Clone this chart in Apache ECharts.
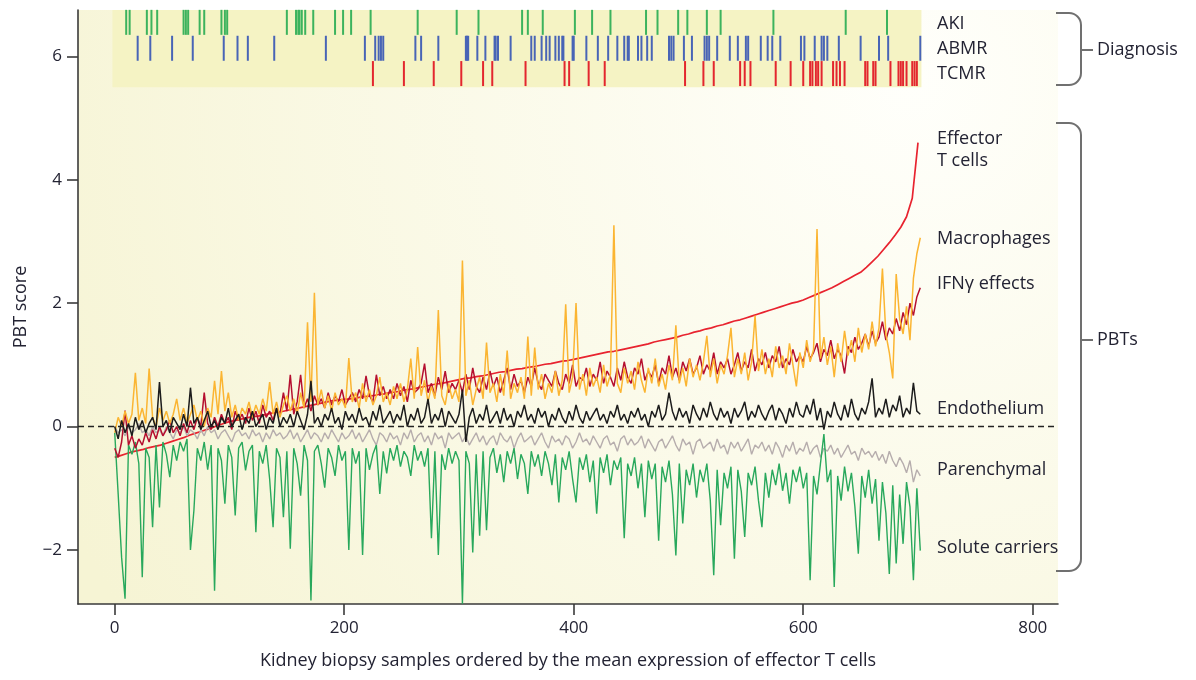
<!DOCTYPE html>
<html lang="en">
<head>
<meta charset="UTF-8">
<title>PBT scores</title>
<script src="https://cdn.jsdelivr.net/npm/echarts@6/dist/echarts.min.js"></script>
<style>
  html, body { margin: 0; background: #fff; }
  #main { width: 1196px; height: 680px; }
</style>
</head>
<body>
<div id="main"></div>
<script>
// effector T cells read every 5th biopsy, the noisy PBTs every 3rd (sample rank 0..702)
const EFFECTOR_STEP = 5;
const PBT_STEP = 3;

const effectorT = [
  -0.50,-0.47,-0.44,-0.41,-0.39,-0.37,-0.34,-0.32,-0.30,-0.27,
  -0.24,-0.21,-0.18,-0.14,-0.11,-0.08,-0.05,-0.02,0.02,0.05,
  0.08,0.10,0.12,0.14,0.16,0.17,0.19,0.21,0.23,0.24,
  0.26,0.28,0.30,0.32,0.34,0.36,0.38,0.40,0.42,0.43,
  0.44,0.45,0.46,0.48,0.49,0.50,0.52,0.53,0.55,0.56,
  0.58,0.60,0.61,0.63,0.65,0.67,0.69,0.70,0.72,0.74,
  0.76,0.78,0.79,0.81,0.82,0.84,0.86,0.88,0.89,0.91,
  0.93,0.94,0.96,0.97,0.99,1.01,1.02,1.04,1.06,1.07,
  1.09,1.11,1.13,1.15,1.17,1.19,1.21,1.22,1.24,1.26,
  1.28,1.30,1.32,1.34,1.37,1.39,1.41,1.43,1.45,1.48,
  1.50,1.53,1.55,1.58,1.60,1.63,1.65,1.68,1.71,1.73,
  1.76,1.79,1.82,1.85,1.88,1.91,1.94,1.97,2.00,2.02,
  2.05,2.09,2.13,2.17,2.21,2.25,2.30,2.35,2.40,2.45,
  2.50,2.58,2.67,2.76,2.87,2.98,3.10,3.23,3.40,3.70,
  4.60
];

const ifnEffects = [
  -0.35,-0.50,-0.25,0.26,-0.30,-0.15,-0.35,-0.20,-0.30,-0.10,
  -0.25,-0.05,-0.20,0.00,-0.15,-0.05,0.10,-0.10,0.00,-0.15,
  0.05,-0.10,0.10,-0.05,0.15,0.00,0.55,0.05,-0.05,0.15,
  0.00,0.20,0.05,0.15,-0.05,0.25,0.10,0.20,0.05,0.30,
  0.10,0.25,0.05,0.35,0.15,0.25,0.10,0.30,0.20,0.55,
  0.25,0.84,0.20,0.40,0.84,0.30,0.45,0.25,0.50,0.35,
  0.45,0.30,0.55,0.35,0.50,0.40,0.60,0.35,0.45,0.55,
  0.40,0.60,0.45,0.82,0.50,0.40,0.84,0.50,0.65,0.45,
  0.60,0.45,0.70,0.50,0.65,0.40,0.75,0.55,0.60,0.70,
  1.02,0.55,0.70,0.50,0.80,0.60,0.90,0.55,0.70,0.60,
  0.75,0.55,0.85,0.60,0.95,0.65,0.55,0.80,0.60,0.90,
  0.65,0.80,0.55,0.75,0.95,0.60,0.85,0.65,0.75,0.55,
  0.80,0.65,0.95,0.70,0.60,0.85,0.75,0.65,0.90,0.70,
  0.60,0.85,0.70,1.00,0.65,0.80,0.75,0.95,0.65,0.85,
  0.75,1.05,0.70,0.90,0.80,0.65,0.95,0.75,1.05,0.80,
  0.70,0.95,0.85,1.10,0.75,0.90,0.80,1.00,0.70,0.95,
  0.85,1.15,0.80,0.95,0.75,1.05,0.90,1.10,0.85,0.95,
  1.15,0.85,1.00,0.90,1.20,0.85,1.05,0.95,1.10,0.85,
  1.00,1.20,0.90,1.05,0.95,1.25,0.90,1.10,1.00,1.20,
  0.95,1.15,1.05,1.30,0.95,1.10,1.00,1.25,1.05,1.15,
  1.05,1.30,1.10,1.20,1.35,1.05,1.25,1.15,1.40,1.10,
  1.25,1.15,0.86,1.30,1.20,1.45,1.25,1.35,1.50,1.30,
  1.55,1.35,1.45,1.70,1.40,1.60,1.50,1.75,1.55,1.85,
  1.65,2.00,1.80,2.10,2.25
];

const macrophages = [
  -0.10,0.15,0.00,0.25,0.05,0.20,0.87,0.10,0.30,0.05,
  0.94,0.15,0.00,0.30,0.10,0.25,0.05,0.20,0.45,0.10,
  0.30,0.05,0.20,0.35,0.10,0.25,0.00,0.30,0.15,0.74,
  0.20,0.90,0.25,0.55,0.15,0.35,0.10,0.30,0.20,0.40,
  0.15,0.35,0.20,0.45,0.25,0.72,0.20,0.40,0.15,0.35,
  0.50,0.25,0.45,0.20,0.55,0.30,1.69,0.40,2.17,0.35,
  0.60,0.30,0.50,0.25,0.55,0.35,0.45,0.30,1.11,0.40,
  0.55,0.30,0.70,0.40,0.60,0.35,0.50,0.80,0.40,0.55,
  0.35,0.65,0.45,0.70,0.40,0.60,1.10,0.45,1.29,0.50,
  0.75,0.40,0.65,0.45,1.89,0.50,0.35,0.70,0.45,0.60,
  0.40,2.69,0.50,0.75,0.35,0.60,0.80,0.45,1.36,0.55,
  0.70,0.40,0.85,0.50,1.23,0.45,0.70,0.55,0.80,0.45,
  1.46,0.50,1.28,0.60,0.85,0.45,0.70,0.55,0.90,0.50,
  0.75,1.98,0.55,0.80,2.00,0.60,0.85,0.50,0.95,0.65,
  0.80,0.55,1.00,0.65,0.85,3.26,0.70,0.55,0.95,0.70,
  0.90,0.60,1.05,0.75,0.55,0.95,0.70,1.10,0.65,0.85,
  0.60,1.00,0.75,1.64,0.70,0.95,0.65,1.10,0.80,1.00,
  0.75,1.05,1.47,0.80,1.10,0.70,1.00,0.85,1.15,1.60,
  0.80,1.10,0.85,1.20,0.75,1.05,1.80,0.90,1.25,0.85,
  1.10,0.80,1.30,0.95,1.15,0.85,1.35,1.00,0.65,1.20,
  0.95,1.40,1.05,1.25,3.20,1.10,1.45,1.00,1.30,0.80,
  1.35,1.05,1.55,1.15,1.40,1.05,1.60,1.20,1.50,1.25,
  1.70,1.30,1.60,2.56,1.50,1.20,0.78,2.47,1.75,1.50,
  1.95,1.40,2.40,2.80,3.06
];

const endothelium = [
  0.00,-0.20,0.10,-0.10,0.05,-0.15,0.15,-0.05,0.10,-0.10,
  0.05,0.15,-0.05,0.72,0.00,0.10,-0.10,0.15,0.05,-0.05,
  0.20,0.00,0.63,0.05,0.15,-0.05,0.10,0.25,0.00,0.10,
  -0.05,0.15,0.05,0.30,0.00,0.10,0.20,-0.05,0.15,0.05,
  0.25,0.00,0.10,0.20,-0.05,0.15,0.05,0.30,0.00,0.15,
  0.05,0.20,0.00,0.25,0.10,-0.05,0.20,0.74,0.05,0.15,
  0.00,0.20,0.10,0.30,0.05,0.15,-0.05,0.25,0.10,0.20,
  0.05,0.30,0.10,0.15,0.00,0.25,0.10,0.35,0.05,0.15,
  0.25,0.05,0.20,0.10,0.35,0.00,0.20,0.10,0.30,0.05,
  0.15,0.45,0.05,0.20,0.10,0.30,0.00,0.25,0.15,0.05,
  0.20,0.60,-0.25,0.15,0.30,0.05,0.20,0.10,0.35,0.05,
  0.15,0.25,0.05,0.30,0.10,0.20,0.00,0.25,0.15,0.35,
  0.10,0.20,0.05,0.30,0.15,0.25,0.00,0.20,0.10,0.30,
  0.15,0.05,0.25,0.10,0.35,0.15,0.05,0.25,0.10,0.20,
  0.30,0.10,0.20,0.05,0.25,0.15,0.35,0.10,0.20,0.05,
  0.25,0.15,0.30,0.10,0.20,0.00,0.25,0.15,0.35,0.10,
  0.20,0.55,0.25,0.10,0.30,0.15,0.25,0.05,0.35,0.20,
  0.10,0.30,0.15,0.40,0.20,0.10,0.30,0.15,0.25,0.05,
  0.30,0.15,0.25,0.40,0.10,0.25,0.15,0.35,0.20,0.10,
  0.25,0.35,0.10,0.30,0.20,0.05,0.30,0.15,0.40,0.20,
  0.15,0.35,0.20,0.45,0.10,0.30,-0.05,0.25,0.15,0.40,
  0.20,0.10,0.35,0.15,0.45,0.20,0.10,0.30,0.20,0.40,
  0.78,0.15,0.30,0.20,0.45,0.15,0.35,0.25,0.50,0.15,
  0.30,0.20,0.71,0.25,0.20
];

const parenchymal = [
  0.00,-0.10,-0.05,-0.15,0.00,-0.10,-0.05,0.05,-0.10,-0.05,
  -0.15,0.00,-0.10,-0.05,-0.15,0.00,-0.10,-0.20,-0.05,-0.10,
  0.00,-0.15,-0.05,-0.10,-0.20,-0.05,-0.15,0.00,-0.10,-0.05,
  -0.20,-0.10,-0.05,-0.15,-0.25,-0.10,-0.05,-0.15,-0.10,-0.20,
  -0.05,-0.15,-0.10,-0.25,-0.10,-0.20,-0.05,-0.15,-0.10,-0.20,
  -0.15,-0.05,-0.20,-0.10,-0.25,-0.15,-0.05,-0.20,-0.10,-0.15,
  -0.25,-0.10,-0.20,-0.05,-0.15,-0.25,-0.10,-0.20,-0.15,-0.05,
  -0.20,-0.10,-0.25,-0.15,-0.05,-0.20,-0.30,-0.10,-0.15,-0.25,
  -0.10,-0.20,-0.15,-0.30,-0.10,-0.20,-0.05,-0.25,-0.15,-0.10,
  -0.25,-0.15,-0.30,-0.10,-0.20,-0.15,-0.35,-0.10,-0.20,-0.15,
  -0.10,-0.25,-0.15,-0.30,-0.20,-0.10,-0.25,-0.15,-0.30,-0.20,
  -0.15,-0.30,-0.10,-0.20,-0.25,-0.15,-0.35,-0.20,-0.10,-0.25,
  -0.20,-0.15,-0.30,-0.20,-0.10,-0.25,-0.35,-0.15,-0.25,-0.20,
  -0.30,-0.15,-0.20,-0.35,-0.25,-0.10,-0.25,-0.20,-0.30,-0.15,
  -0.25,-0.35,-0.20,-0.15,-0.30,-0.25,-0.40,-0.20,-0.15,-0.30,
  -0.20,-0.30,-0.25,-0.15,-0.35,-0.20,-0.30,-0.40,-0.25,-0.20,
  -0.35,-0.25,-0.15,-0.30,-0.40,-0.20,-0.30,-0.25,-0.45,-0.25,
  -0.20,-0.35,-0.30,-0.25,-0.40,-0.20,-0.35,-0.30,-0.45,-0.25,
  -0.35,-0.25,-0.40,-0.30,-0.20,-0.45,-0.30,-0.35,-0.25,-0.40,
  -0.30,-0.45,-0.25,-0.35,-0.50,-0.30,-0.40,-0.25,-0.45,-0.35,
  -0.40,-0.25,-0.45,-0.35,-0.30,-0.50,-0.35,-0.40,-0.30,-0.45,
  -0.35,-0.50,-0.40,-0.30,-0.45,-0.40,-0.55,-0.35,-0.45,-0.40,
  -0.50,-0.40,-0.55,-0.45,-0.60,-0.40,-0.55,-0.65,-0.50,-0.60,
  -0.75,-0.55,-0.90,-0.70,-0.80
];

const soluteCarriers = [
  -0.10,-1.09,-2.12,-2.79,-0.30,-0.45,-0.25,-0.60,-2.44,-0.35,
  -0.50,-1.63,-0.30,-1.31,-0.25,-0.45,-0.82,-0.30,-0.55,-0.25,
  -0.40,-0.20,-2.00,-1.36,-0.35,-0.55,-0.25,-0.70,-0.30,-2.66,
  -0.35,-0.55,-1.25,-0.30,-0.50,-1.44,-0.35,-0.25,-0.71,-0.40,
  -0.30,-1.71,-0.40,-0.60,-0.30,-0.85,-1.63,-0.35,-0.50,-1.47,
  -0.40,-1.98,-0.35,-0.60,-1.12,-0.30,-0.55,-2.82,-0.40,-0.30,
  -0.60,-0.99,-0.35,-0.50,-0.80,-0.30,-0.55,-0.40,-2.00,-0.35,
  -0.60,-0.40,-2.08,-0.35,-0.70,-0.45,-0.30,-1.09,-0.40,-0.76,
  -0.35,-0.55,-0.30,-0.65,-0.40,-0.50,-0.80,-0.30,-0.55,-0.40,
  -0.65,-0.35,-1.81,-0.40,-2.08,-0.45,-0.70,-0.35,-0.60,-0.40,
  -0.55,-2.87,-0.40,-0.60,-2.04,-0.45,-1.77,-0.40,-1.68,-0.50,
  -0.35,-0.75,-0.45,-0.90,-0.40,-0.60,-0.35,-0.85,-0.45,-0.60,
  -1.09,-0.40,-0.65,-0.45,-0.80,-0.40,-0.60,-0.95,-0.45,-1.23,
  -0.50,-0.70,-0.40,-0.85,-1.23,-0.50,-0.70,-0.45,-0.90,-0.55,
  -1.41,-0.50,-0.75,-0.45,-0.95,-0.55,-0.70,-0.50,-1.81,-0.60,
  -0.80,-0.50,-1.00,-0.60,-1.47,-0.55,-0.85,-0.60,-1.85,-0.65,
  -0.90,-0.55,-1.10,-2.09,-0.60,-1.57,-0.70,-0.95,-0.60,-1.15,
  -0.70,-0.90,-0.60,-1.20,-2.41,-0.70,-1.60,-0.75,-1.00,-0.65,
  -2.14,-0.70,-1.05,-1.79,-0.75,-0.95,-0.65,-1.20,-1.63,-0.75,
  -1.15,-0.70,-0.95,-0.60,-1.04,-0.75,-1.25,-0.70,-0.90,-0.65,
  -1.00,-0.75,-2.49,-0.80,-1.10,-0.60,-0.12,-0.90,-0.70,-2.60,
  -0.80,-1.20,-0.65,-1.05,-0.75,-1.30,-2.06,-0.80,-1.15,-0.70,
  -1.25,-0.85,-1.85,-0.90,-1.40,-2.39,-0.95,-2.22,-1.10,-1.90,
  -0.90,-1.30,-2.49,-1.00,-2.01
];

// diagnosis of each biopsy (sample rank)
const akiSamples = [10,13,28,32,37,60,62,64,74,78,93,96,98,150,158,160,161,163,166,173,192,199,206,223,
  264,298,317,355,360,373,401,416,432,463,473,491,499,516,528,574,637,673];
const abmrSamples = [20,31,50,68,95,107,116,139,184,218,227,230,232,234,262,267,282,306,307,308,316,323,
  331,332,334,345,363,366,372,376,379,384,387,390,391,399,400,411,421,430,438,444,447,448,456,459,464,468,
  483,485,487,496,503,514,516,518,525,536,543,550,552,563,569,573,580,598,601,610,616,618,621,631,650,666,674,702];
const tcmrSamples = [225,252,278,302,321,329,358,392,396,413,427,497,513,522,545,549,554,576,589,600,606,
  608,611,613,616,626,629,632,636,654,656,661,663,676,683,685,687,690,695,697,699];

const xTicks = [0, 200, 400, 600, 800];
const yTicks = [-2, 0, 2, 4, 6];
const rowY = { AKI: 6.55, ABMR: 6.13, TCMR: 5.72 };
const band = { x0: -2, x1: 703, y0: 5.5, y1: 6.75 };

const FONT = '"Open Sans", "DejaVu Sans", sans-serif';
const TEXT = '#232333';

let myChart = echarts.init(document.getElementById('main'));

function lineSeries(name, values, step, color, width) {
    return {
        type: 'line',
        name: name,
        data: values.map((v, i) => [i * step, v]),
        symbol: 'none',
        showSymbol: false,
        lineStyle: { color: color, width: width },
        silent: true,
        z: 2
    };
}

function tickSeries(samples, y, color) {
    return {
        type: 'scatter',
        data: samples.map(x => [x, y]),
        symbol: 'rect',
        symbolSize: [2, 25],
        itemStyle: { color: color, opacity: 1 },
        silent: true,
        z: 5
    };
}

// curly bracket on the right: top/bottom arms, rounded corners, centre tick
function bracket(xl, xr, yt, yb, ym, r) {
    const st = { stroke: '#707070', lineWidth: 2, fill: null };
    return [
        { type: 'line', shape: { x1: xl, y1: yt, x2: xr - r, y2: yt }, style: st },
        { type: 'arc', shape: { cx: xr - r, cy: yt + r, r: r, startAngle: -Math.PI / 2, endAngle: 0, clockwise: true }, style: st },
        { type: 'line', shape: { x1: xr, y1: yt + r, x2: xr, y2: yb - r }, style: st },
        { type: 'arc', shape: { cx: xr - r, cy: yb - r, r: r, startAngle: 0, endAngle: Math.PI / 2, clockwise: true }, style: st },
        { type: 'line', shape: { x1: xr - r, y1: yb, x2: xl, y2: yb }, style: st },
        { type: 'line', shape: { x1: xr, y1: ym, x2: xr + 12, y2: ym }, style: st }
    ];
}

function label(text, x, y) {
    return {
        type: 'text', x: x, y: y,
        style: { text: text, fill: TEXT, font: '18px ' + FONT, verticalAlign: 'middle', lineHeight: 22 }
    };
}

let graphics = [].concat(
    bracket(1056, 1081, 13, 85, 50, 12),
    bracket(1056, 1081, 123, 571, 340, 12),
    [
        label('AKI', 937, 24),
        label('ABMR', 937, 49),
        label('TCMR', 937, 74),
        label('Diagnosis', 1097, 50),
        label('Effector\nT cells', 937, 150),
        label('Macrophages', 937, 239),
        label('IFNγ effects', 937, 284),
        label('Endothelium', 937, 409),
        label('Parenchymal', 937, 470),
        label('Solute carriers', 937, 548),
        label('PBTs', 1097, 340)
    ]
);

// effector line goes first so the noisy PBTs are drawn over it, as in the figure
let effector = lineSeries('Effector T cells', effectorT, EFFECTOR_STEP, '#e8232f', 1.7);
effector.markArea = {
    silent: true,
    itemStyle: { color: '#f5f3c4' },
    data: [[{ coord: [band.x0, band.y0] }, { coord: [band.x1, band.y1] }]]
};
effector.markLine = {
    silent: true,
    symbol: ['none', 'none'],
    label: { show: false },
    lineStyle: { color: '#222', type: [6, 4], width: 1.3 },
    data: [{ yAxis: 0 }]
};

let option = {
    animation: false,
    grid: {
        left: 78, right: 138, top: 10, bottom: 76,
        containLabel: false,
        show: true,
        borderWidth: 0,
        backgroundColor: {
            type: 'radial', x: 0.85, y: 0.12, r: 1.6,
            colorStops: [
                { offset: 0, color: '#fffffb' },
                { offset: 1, color: '#f6f4d4' }
            ]
        }
    },
    xAxis: {
        type: 'value',
        min: -32, max: 822,
        name: 'Kidney biopsy samples ordered by the mean expression of effector T cells',
        nameLocation: 'middle',
        nameGap: 48,
        nameTextStyle: { color: TEXT, fontSize: 18, fontFamily: FONT },
        axisLine: { onZero: false, lineStyle: { color: '#3a3a3a', width: 1.6 } },
        axisTick: { customValues: xTicks, length: 11, lineStyle: { color: '#3a3a3a', width: 1.6 } },
        axisLabel: { customValues: xTicks, margin: 16, color: TEXT, fontSize: 17, fontFamily: FONT },
        splitLine: { show: false }
    },
    yAxis: {
        type: 'value',
        min: -2.875, max: 6.75,
        name: 'PBT score',
        nameLocation: 'middle',
        nameGap: 48,
        nameTextStyle: { color: TEXT, fontSize: 18, fontFamily: FONT },
        axisLine: { onZero: false, lineStyle: { color: '#3a3a3a', width: 1.6 } },
        axisTick: { customValues: yTicks, length: 11, lineStyle: { color: '#3a3a3a', width: 1.6 } },
        axisLabel: {
            customValues: yTicks, margin: 16, color: TEXT, fontSize: 17, fontFamily: FONT,
            formatter: v => String(v).replace('-', '\u2212')
        },
        splitLine: { show: false }
    },
    series: [
        effector,
        lineSeries('Parenchymal', parenchymal, PBT_STEP, '#b6adad', 1.4),
        lineSeries('Solute carriers', soluteCarriers, PBT_STEP, '#28a85c', 1.4),
        lineSeries('IFNγ effects', ifnEffects, PBT_STEP, '#b50f2f', 1.5),
        lineSeries('Macrophages', macrophages, PBT_STEP, '#fbb532', 1.5),
        lineSeries('Endothelium', endothelium, PBT_STEP, '#1c1c1c', 1.5),
        tickSeries(akiSamples, rowY.AKI, '#3cb35d'),
        tickSeries(abmrSamples, rowY.ABMR, '#4864b6'),
        tickSeries(tcmrSamples, rowY.TCMR, '#e3262e')
    ],
    graphic: graphics
};

myChart.setOption(option);
</script>
</body>
</html>
